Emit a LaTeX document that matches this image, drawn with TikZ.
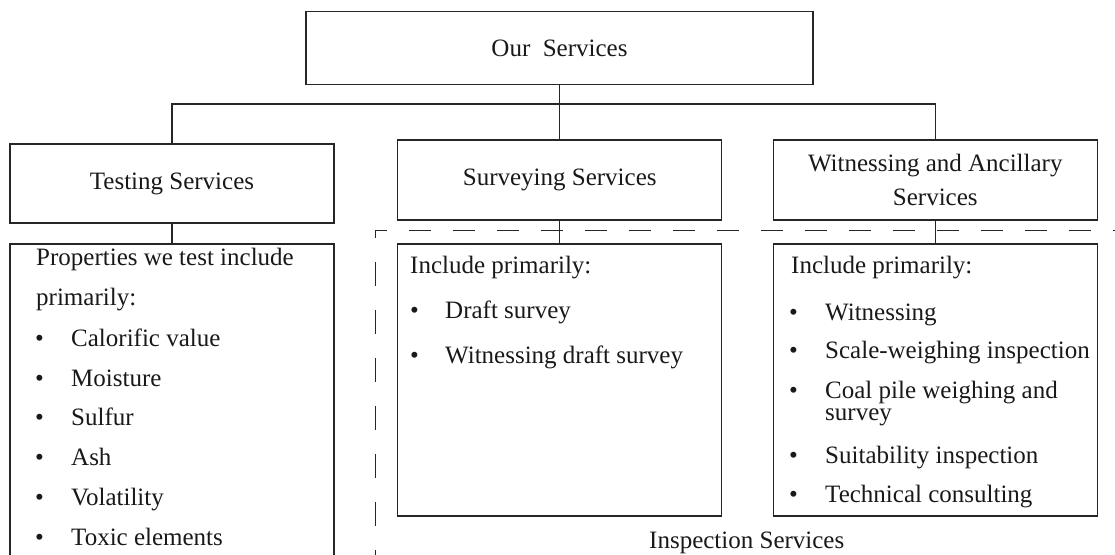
\documentclass[tikz,border=0pt]{standalone}
\usepackage{fontspec}
\setmainfont{Liberation Serif}
\begin{document}
\begin{tikzpicture}[x=1pt,y=-1pt,
  every node/.style={font=\fontsize{25}{34}\selectfont, text=black!90},
  box/.style={draw=black!85, line width=1.2pt, inner sep=0pt, align=center},
  listbox/.style={box, minimum width=324pt, anchor=north},
  conn/.style={draw=black!85, line width=1.2pt},
  grp/.style={draw=black!85, line width=1pt},
  txt/.style={anchor=base west, inner sep=0pt},
  bul/.style={anchor=base west, inner sep=0pt}]
\useasboundingbox (0,0) rectangle (1115,554);
\clip (0,0) rectangle (1115,554);

% dashed frame of the inspection group (runs past the page edges)
\coordinate (corner) at (375.7,230);
\draw[grp, dash pattern=on 22pt off 22pt, dash phase=11pt] (corner) -- (1140,230);
\draw[grp, dash pattern=on 24pt off 24pt, dash phase=16pt] (corner) -- (375.7,590);

% header boxes
\node[box, minimum width=507pt, minimum height=73pt] (top) at (559.5,48.2) {Our\ \ Services};
\node[box, minimum width=324pt, minimum height=79pt] (test) at (172,183.5) {Testing Services};
\node[box, minimum width=324pt, minimum height=80pt] (surv) at (559.7,180) {Surveying Services};
\node[box, minimum width=324pt, minimum height=80pt] (witn) at (935.3,180) {Witnessing and Ancillary\\Services};

% detail boxes
\node[listbox, minimum height=360pt] (testL) at (172,243.3) {};
\node[listbox, minimum height=272pt] (survL) at (559.7,243.3) {};
\node[listbox, minimum height=272pt] (witnL) at (935.3,243.3) {};

% tree connectors
\coordinate (bus) at (0,104);
\draw[conn] (top.south) -- (top.south |- bus);
\draw[conn] (test.north) -- (test.north |- bus) -- (witn.north |- bus) -- (witn.north);
\draw[conn] (surv.north) -- (surv.north |- bus);
\draw[conn] (test.south) -- (testL.north);
\draw[conn] (surv.south) -- (survL.north);
\draw[conn] (witn.south) -- (witnL.north);

% testing list
\node[txt] (tH1) at (36,265.7) {Properties we test include};
\node[txt] (tH2) at (36,305) {primarily:};
\foreach \y/\s [count=\i] in {346/Calorific value, 386/Moisture, 425.5/Sulfur,
    465/Ash, 505/Volatility, 545/Toxic elements} {
  \node[bul] (tb\i) at (35,\y) {\textbullet};
  \node[txt] (ti\i) at (71,\y) {\s};
}

% surveying list
\node[txt] (sH) at (410,273) {Include primarily:};
\foreach \y/\s [count=\i] in {318.5/Draft survey, 363/Witnessing draft survey} {
  \node[bul] (sb\i) at (410,\y) {\textbullet};
  \node[txt] (si\i) at (445,\y) {\s};
}

% witnessing list
\node[txt] (wH) at (791,273) {Include primarily:};
\foreach \y/\s [count=\i] in {320/Witnessing, 358.5/Scale-weighing inspection,
    463/Suitability inspection, 502/Technical consulting} {
  \node[bul] (wb\i) at (789,\y) {\textbullet};
  \node[txt] (wi\i) at (825,\y) {\s};
}
\node[bul] (wbc) at (789,398) {\textbullet};
% two-line item: base anchor sits on the last line
\node[txt, align=left, font=\fontsize{25}{22}\selectfont] (wic) at (825,420)
  {Coal pile weighing and\\survey};

% group label
\node[txt] (insp) at (649,548) {Inspection Services};
\end{tikzpicture}
\end{document}
